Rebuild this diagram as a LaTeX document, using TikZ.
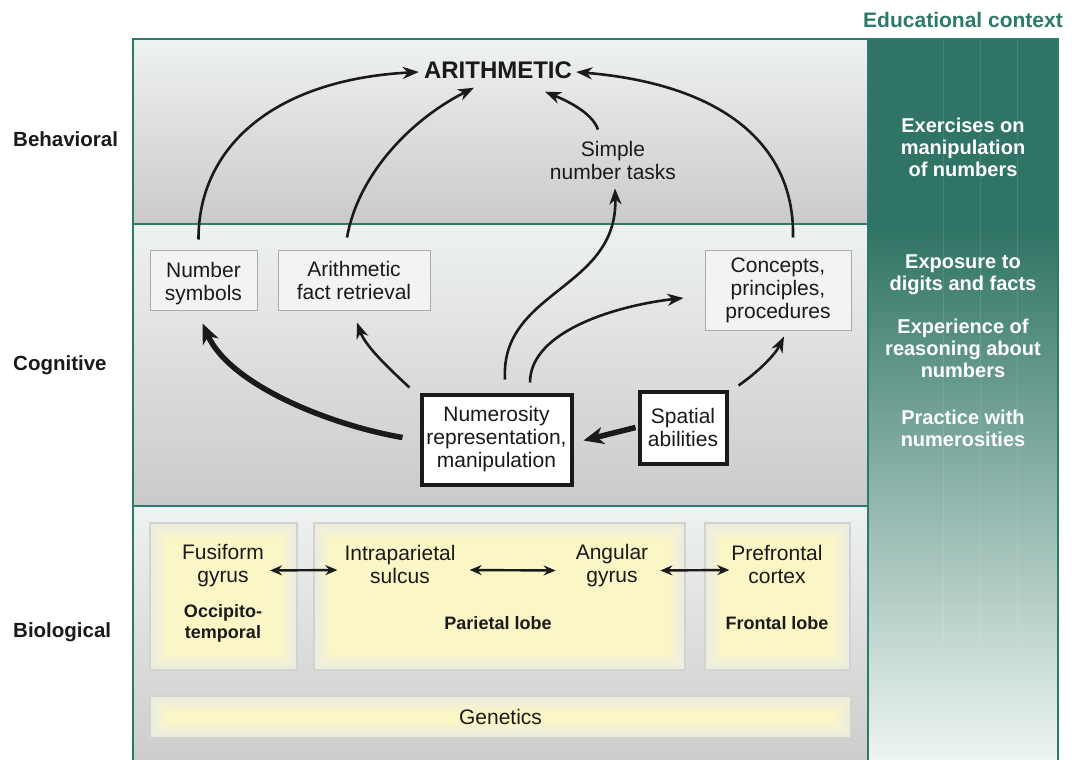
\documentclass[tikz,border=0pt]{standalone}
\usepackage{fontspec}
\setmainfont{Liberation Sans}
\usetikzlibrary{arrows.meta,calc}
\definecolor{tealline}{HTML}{2E7A6A}
\definecolor{tealdark}{HTML}{2F7464}
\definecolor{teallight}{HTML}{EEF5F2}
\definecolor{bandtop}{HTML}{EEF2F0}
\definecolor{bandbot}{HTML}{CACACA}
\definecolor{boxfill}{HTML}{F3F3F3}
\definecolor{boxline}{HTML}{ABABAB}
\definecolor{ylw}{HTML}{FAF6C6}
\definecolor{ylwedge}{HTML}{EDEDE6}
\definecolor{ylwline}{HTML}{D2D2CE}
\definecolor{ink}{HTML}{1A1A1A}
\begin{document}
\begin{tikzpicture}[x=1pt,y=-1pt,
  txt/.style={font=\fontsize{21}{23}\selectfont, text=ink, align=center, inner sep=0pt},
  side/.style={font=\fontsize{20.5}{23}\selectfont\bfseries, text=ink, anchor=west, inner sep=0pt},
  edu/.style={font=\fontsize{20}{22}\selectfont\bfseries, text=white, align=center, inner sep=0pt},
  lobe/.style={font=\fontsize{18}{21}\selectfont\bfseries, text=ink, align=center, inner sep=0pt},
  cbox/.style={txt, draw=boxline, fill=boxfill, line width=1pt},
  tbox/.style={txt, draw=ink, fill=white, line width=4pt},
  ybox/.style={draw=ylwline, fill=ylw, line width=1.2pt, inner sep=0pt,
    path picture={
      \foreach \w in {30,24,19,15,11,8,5,3}
        \draw[ylwedge, line width=\w pt, opacity=.22] (path picture bounding box.north west) rectangle (path picture bounding box.south east);}},
  arr/.style={draw=ink, line width=2.6pt, -{Stealth[length=16pt,width=12pt,inset=5pt]}},
  bigarr/.style={draw=ink, line width=5.5pt, -{Stealth[length=20pt,width=17pt,inset=6pt]}},
  darr/.style={draw=ink, line width=2.4pt, {Stealth[length=12pt,width=10pt,inset=4pt]}-{Stealth[length=12pt,width=10pt,inset=4pt]}}
]
\useasboundingbox (0,0) rectangle (1072,760);
\fill[white] (0,0) rectangle (1072,760);
% bands
\shade[top color=bandtop, bottom color=bandbot] (133,39) rectangle (868,224);
\shade[top color=bandtop, bottom color=bandbot] (133,224) rectangle (868,506);
\shade[top color=bandtop, bottom color=bandbot!95!white] (133,506) rectangle (868,760);
% teal column
\fill[tealdark] (868,39) rectangle (1058,226);
\shade[top color=tealdark, bottom color=teallight] (868,226) rectangle (1058,760);
\foreach \xx in {943,980,1017} \draw[white, opacity=.1, line width=.8pt] (\xx,39) -- (\xx,760);
% frame
\draw[tealline, line width=2.5pt] (133,760) -- (133,39) -- (1058,39) -- (1058,760);
\draw[tealline, line width=2.5pt] (868,39) -- (868,760);
\draw[tealline, line width=2.5pt] (133,224) -- (868,224);
\draw[tealline, line width=2.5pt] (133,506) -- (868,506);

% labels
\node[side] (lbeh) at (13,139) {Behavioral};
\node[side] (lcog) at (13,365) {Cognitive};
\node[side] (lbio) at (13,632) {Biological};
\node[font=\fontsize{21}{23}\selectfont\bfseries, text=tealline, inner sep=0pt] (ledu) at (963,20) {Educational context};

% educational texts
\node[edu] (e1) at (963,147) {Exercises on\\manipulation\\of numbers};
\node[edu] (e2) at (963,274.5) {Exposure to\\digits and facts};
\node[edu] (e3) at (963,348) {Experience of\\reasoning about\\numbers};
\node[edu] (e4) at (963,428.5) {Practice with\\numerosities};

% behavioral
\node[font=\fontsize{24}{26}\selectfont\bfseries, text=ink, inner sep=0pt] (arith) at (498,70) {ARITHMETIC};
\node[txt] (simple) at (613,160) {Simple\\number tasks};

% cognitive
\node[cbox, minimum width=107pt, minimum height=60pt] (ns) at (203.5,280) {\rule{0pt}{23pt}Number\\symbols};
\node[cbox, minimum width=152pt, minimum height=60pt] (afr) at (354,280) {Arithmetic\\fact retrieval};
\node[cbox, minimum width=146pt, minimum height=80pt] (cpp) at (778,290) {Concepts,\\principles,\\procedures};
\node[tbox, minimum width=150pt, minimum height=90pt] (num) at (496.5,439.5) {Numerosity\\representation,\\manipulation};
\node[tbox, minimum width=87pt, minimum height=72pt] (spa) at (683,427.5) {Spatial\\abilities};

% biological
\node[ybox, minimum width=147pt, minimum height=147pt] (fus) at (223.5,596.5) {};
\node[ybox, minimum width=371pt, minimum height=147pt] (par) at (499.5,596.5) {};
\node[ybox, minimum width=145pt, minimum height=147pt] (pfc) at (777.5,596.5) {};
\node[ybox, minimum width=701pt, minimum height=42pt] (gen) at (500.5,717) {};
\node[txt] (gentxt) at (gen.center) {Genetics};
\node[txt] (fg) at (223,565.5) {Fusiform\\gyrus};
\node[lobe] (ot) at (223,623) {Occipito-\\temporal};
\node[txt] (ips) at (400,564) {Intraparietal\\sulcus};
\node[txt] (ang) at (612,565.5) {Angular\\gyrus};
\node[lobe] (pl) at (498,623) {Parietal lobe};
\node[txt] (pf) at (777,564) {Prefrontal\\cortex};
\node[lobe] (fl) at (777,623) {Frontal lobe};

\draw[darr] ($(fg.east)+(6,5)$) -- ($(ips.west)+(-7,6)$);
\draw[darr] ($(ips.east)+(14,6)$) -- ($(ang.west)+(-20,5)$);
\draw[darr] ($(ang.east)+(12,5)$) -- ($(pf.west)+(-2,6)$);

% arrows to arithmetic
\draw[arr] ($(ns.north)+(-5,-10)$) .. controls (198,150) and (270,80) .. ($(arith.west)+(-5,2)$);
\draw[arr] ($(afr.north)+(-7,-12)$) .. controls (358,175) and (410,120) .. ($(arith.south)+(-24,9)$);
\draw[arr] ($(simple.north)+(-15,-11)$) .. controls (592,112) and (565,100) .. ($(arith.south)+(47,13)$);
\draw[arr] ($(cpp.north)+(15,-12)$) .. controls (795,150) and (730,85) .. ($(arith.east)+(4,2)$);
% from numerosity
\draw[arr] ($(num.north)+(8.5,-13)$) .. controls (500,290) and (618,290) .. ($(simple.south)+(2,9)$);
\draw[arr] ($(num.north)+(33.5,-10)$) .. controls (530,330) and (620,305) .. ($(cpp.west)+(-21,8)$);
\draw[arr] ($(num.north west)+(-10,-5)$) .. controls (385,365) and (365,345) .. ($(afr.south)+(3,12)$);
\draw[bigarr] ($(num.west)+(-17,-2)$) .. controls (330,425) and (230,385) .. ($(ns.south)+(-1,13)$);
\draw[bigarr] ($(spa.west)+(-2,0)$) -- ($(num.east)+(10,1)$);
\draw[arr] ($(spa.north east)+(10,-4)$) .. controls (758,372) and (775,355) .. ($(cpp.south)+(6,6)$);
\end{tikzpicture}
\end{document}
